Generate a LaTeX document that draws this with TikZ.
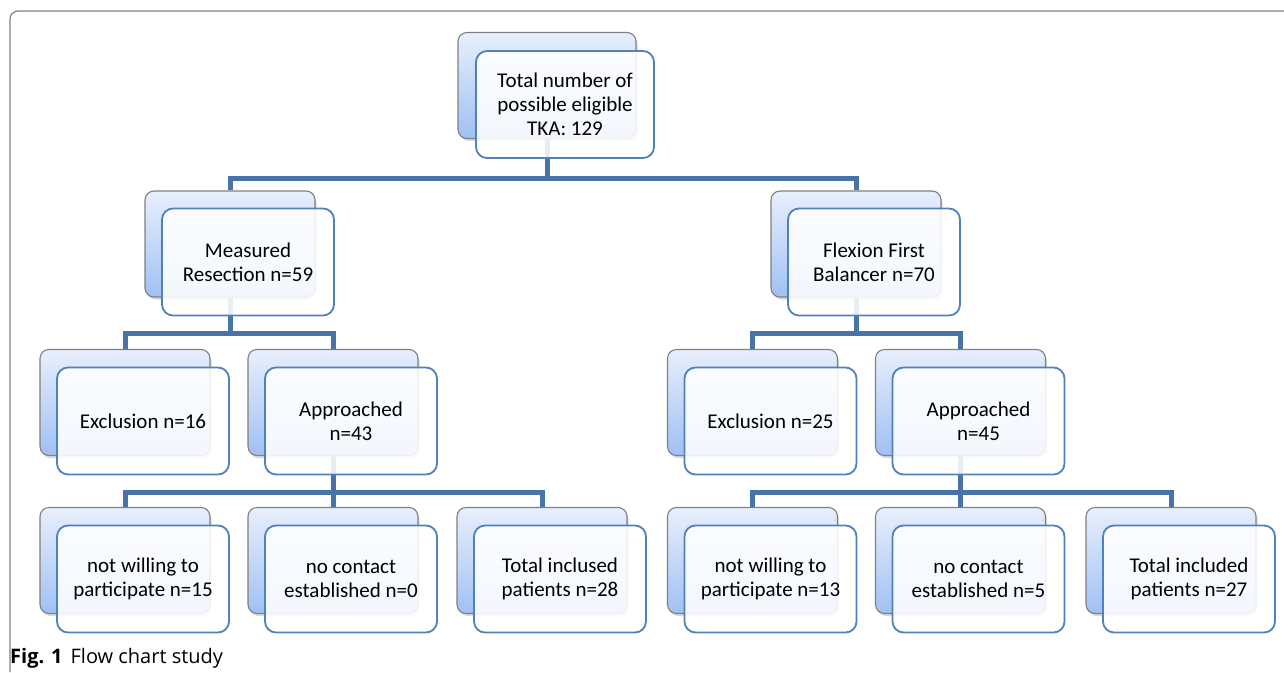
\documentclass[tikz,border=0pt]{standalone}
\usepackage{fontspec}
\setmainfont{Carlito}
\newfontfamily\capfont{Open Sans}
\usepackage{tikz}
\usetikzlibrary{shadows}
\definecolor{fclink}{RGB}{72,114,168}
\definecolor{fcedge}{RGB}{79,129,189}
\definecolor{fcback}{RGB}{128,128,128}
\definecolor{fctop}{RGB}{232,239,252}
\definecolor{fcbot}{RGB}{160,192,244}

\begin{document}
\begin{tikzpicture}[
  x=1pt, y=-1pt,
  backbox/.style={rectangle, rounded corners=9pt, draw=fcback, line width=1.1pt,
                  top color=fctop, bottom color=fcbot,
                  minimum width=170pt, minimum height=106pt,
                  drop shadow={shadow xshift=1.5pt, shadow yshift=-2.5pt, opacity=0.3}},
  frontbox/.style={rectangle, rounded corners=11pt, draw=fcedge, line width=1.8pt,
                   fill=white, fill opacity=0.88, text opacity=1,
                   minimum width=172pt, minimum height=107pt,
                   font=\fontsize{21}{24}\selectfont, align=center},
  link/.style={draw=fclink, line width=5pt}
]
\useasboundingbox (0,0) rectangle (1284,672);

% Frame
\draw[fcback, line width=1.2pt, rounded corners=8pt] (10,672) -- (10,11) -- (1284,11);

% Back boxes
\node[backbox, minimum width=178pt] (tkaB) at (547,85.5) {};
\node[backbox] (measB)  at (230,244) {};
\node[backbox] (flexB)  at (856,244) {};
\node[backbox] (exclAB) at (125,402.5) {};
\node[backbox] (apprAB) at (333,402.5) {};
\node[backbox] (exclBB) at (752.5,402.5) {};
\node[backbox] (apprBB) at (960.5,402.5) {};
\node[backbox] (willAB) at (125,560.5) {};
\node[backbox] (contAB) at (333,560.5) {};
\node[backbox] (inclAB) at (542,560.5) {};
\node[backbox] (willBB) at (752.5,560.5) {};
\node[backbox] (contBB) at (960.5,560.5) {};
\node[backbox] (inclBB) at (1171,560.5) {};

% Connectors
\draw[link] (tkaB.south) -- ++(0,39) -| (measB.north);
\draw[link] (tkaB.south) -- ++(0,39) -| (flexB.north);
\draw[link] (measB.south) -- ++(0,36) -| (exclAB.north);
\draw[link] (measB.south) -- ++(0,36) -| (apprAB.north);
\draw[link] (flexB.south) -- ++(0,36) -| (exclBB.north);
\draw[link] (flexB.south) -- ++(0,36) -| (apprBB.north);
\draw[link] (apprAB.south) -- ++(0,36) -| (willAB.north);
\draw[link] (apprAB.south) -- ++(0,36) -| (contAB.north);
\draw[link] (apprAB.south) -- ++(0,36) -| (inclAB.north);
\draw[link] (apprBB.south) -- ++(0,36) -| (willBB.north);
\draw[link] (apprBB.south) -- ++(0,36) -| (contBB.north);
\draw[link] (apprBB.south) -- ++(0,36) -| (inclBB.north);

% Front boxes
\node[frontbox, minimum width=178pt] (tkaF) at (565,104.5) {Total number of\\possible eligible\\TKA: 129};
\node[frontbox] (measF)  at (248,262)   {Measured\\Resection n=59};
\node[frontbox] (flexF)  at (874,262)   {Flexion First\\Balancer n=70};
\node[frontbox] (exclAF) at (143,421)   {Exclusion n=16};
\node[frontbox] (apprAF) at (351,421)   {Approached\\n=43};
\node[frontbox] (exclBF) at (770.5,421) {Exclusion n=25};
\node[frontbox] (apprBF) at (978.5,421) {Approached\\n=45};
\node[frontbox] (willAF) at (143,579)   {not willing to\\participate n=15};
\node[frontbox] (contAF) at (351,579)   {no contact\\established n=0};
\node[frontbox] (inclAF) at (560,579)   {Total inclused\\patients n=28};
\node[frontbox] (willBF) at (770.5,579) {not willing to\\participate n=13};
\node[frontbox] (contBF) at (978.5,579) {no contact\\established n=5};
\node[frontbox] (inclBF) at (1189,579)  {Total included\\patients n=27};

% Caption
\node[anchor=base west, inner sep=0pt, font=\capfont\fontsize{20}{24}\selectfont] (cap) at (10,663)
  {\textbf{Fig. 1}\hspace{8pt}Flow chart study};
\end{tikzpicture}
\end{document}
